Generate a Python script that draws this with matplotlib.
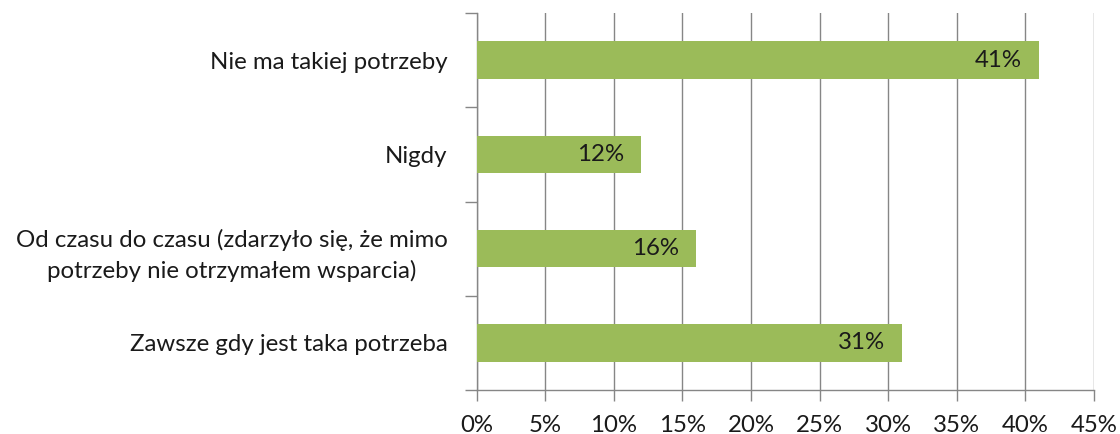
import matplotlib
matplotlib.use("Agg")
import matplotlib.pyplot as plt
import numpy as np

categories = ["Zawsze gdy jest taka potrzeba",
              "Od czasu do czasu (zdarzyło się, że mimo\npotrzeby nie otrzymałem wsparcia)",
              "Nigdy",
              "Nie ma takiej potrzeby"]
values = [31, 16, 12, 41]
xticks = [0, 5, 10, 15, 20, 25, 30, 35, 40, 45]

plt.rcParams['font.family'] = ['Lato', 'DejaVu Sans']
fig = plt.figure(figsize=(11.2, 4.34), dpi=100)
ax = fig.add_axes([476.7/1120, 1-390/434, (1094-476.7)/1120, (390-13)/434])

fs = 17.3
y = np.arange(len(categories))
ax.barh(y, values, height=0.4, color="#9BBB59", zorder=3)
for yi, v in zip(y, values):
    ax.text(v - 1.25, yi, f"{v}%", ha="right", va="center", fontsize=fs, color="#1a1a1a", zorder=4)

ax.set_xlim(0, 45)
ax.set_ylim(-0.5, len(categories) - 0.5)
ax.set_xticks(xticks)
ax.set_xticklabels([f"{t}%" for t in xticks], fontsize=fs, color="#1a1a1a")
ax.set_yticks(y)
ax.set_yticklabels(categories, fontsize=fs, color="#1a1a1a", linespacing=1.5)
ax.set_yticks(np.arange(-0.5, len(categories), 1.0), minor=True)
ax.tick_params(axis="y", which="major", length=0, pad=21)
ax.tick_params(axis="y", which="minor", length=9, color="#868686", width=1)
ax.tick_params(axis="x", which="major", length=8, color="#868686", width=1, pad=10)
for lab in ax.get_yticklabels():
    lab.set_multialignment("center")
ax.grid(axis="x", color="#868686", linewidth=1, zorder=0)
for s in ["top", "right"]:
    ax.spines[s].set_visible(False)
for s in ["left", "bottom"]:
    ax.spines[s].set_color("#868686")
    ax.spines[s].set_linewidth(1)

fig.savefig("out.png", dpi=100)
